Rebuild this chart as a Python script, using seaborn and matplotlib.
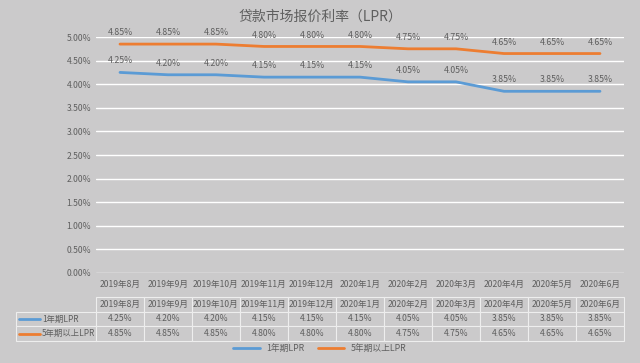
import matplotlib
matplotlib.use("Agg")
import matplotlib.pyplot as plt
import matplotlib.ticker as mtick
from matplotlib.lines import Line2D
import seaborn as sns
import pandas as pd

# 数据
months = ["2019年8月", "2019年9月", "2019年10月", "2019年11月", "2019年12月", "2020年1月",
          "2020年2月", "2020年3月", "2020年4月", "2020年5月", "2020年6月"]
lpr_1y = [4.25, 4.20, 4.20, 4.15, 4.15, 4.15, 4.05, 4.05, 3.85, 3.85, 3.85]
lpr_5y = [4.85, 4.85, 4.85, 4.80, 4.80, 4.80, 4.75, 4.75, 4.65, 4.65, 4.65]
series_names = ["1年期LPR", "5年期以上LPR"]

bg = "#cbcacb"
txt = "#5f5f5f"
colors = ["#5b9bd5", "#ed7d31"]

sns.set_style("white")
plt.rcParams['font.family'] = ['Noto Sans CJK SC', 'DejaVu Sans']

df = pd.DataFrame({"月份": months * 2,
                   "利率": lpr_1y + lpr_5y,
                   "系列": [series_names[0]] * len(months) + [series_names[1]] * len(months)})
df["x"] = list(range(len(months))) * 2

fig = plt.figure(figsize=(6.4, 3.63), dpi=100, facecolor=bg)
ax = fig.add_axes([0.15, 0.248, 0.825, 0.65])
ax.set_facecolor(bg)

sns.lineplot(data=df, x="x", y="利率", hue="系列", palette=colors, linewidth=2,
             ax=ax, legend=False)

# 数据标签
for vals in [lpr_1y, lpr_5y]:
    for i, v in enumerate(vals):
        ax.annotate(f"{v:.2f}%", (i, v), xytext=(0, 5), textcoords="offset points",
                    ha="center", va="bottom", fontsize=6.3, color=txt)

ax.set_xlim(-0.5, len(months) - 0.5)
ax.set_ylim(0, 5.0)
ax.set_yticks([i * 0.5 for i in range(11)])
ax.yaxis.set_major_formatter(mtick.FuncFormatter(lambda v, p: f"{v:.2f}%"))
ax.set_xticks(range(len(months)))
ax.set_xticklabels(months)
ax.tick_params(axis="both", labelsize=6.2, colors=txt, length=0)
ax.tick_params(axis="x", pad=5)
ax.grid(axis="y", color="white", linewidth=1)
ax.set_axisbelow(True)
for s in ax.spines.values():
    s.set_visible(False)
ax.set_xlabel("")
ax.set_ylabel("")

fig.text(0.5, 0.955, "贷款市场报价利率（LPR）", ha="center", va="center", fontsize=10, color=txt)

# 数据表 (第一列放行标题)
lab_w = 80 / 528
cells = [[""] + months,
         [""] + [f"{v:.2f}%" for v in lpr_1y],
         [""] + [f"{v:.2f}%" for v in lpr_5y]]
tbl = ax.table(cellText=cells, cellLoc="center",
               colWidths=[lab_w] + [1 / len(months)] * len(months),
               bbox=[-lab_w, -0.29, 1 + lab_w, 0.19])
tbl.auto_set_font_size(False)
tbl.set_fontsize(6.2)
for (r, c), cell in tbl.get_celld().items():
    cell.set_facecolor(bg)
    cell.set_edgecolor("#eeeeee")
    cell.set_linewidth(0.8)
    cell.get_text().set_color(txt)
    if r == 0 and c == 0:
        cell.set_edgecolor(bg)

# 表内行标题和图例线
for k, col in enumerate(colors):
    yy = -0.29 + 0.19 * (1.5 - k) / 3
    ax.add_line(Line2D([-0.146, -0.106], [yy, yy], transform=ax.transAxes,
                       color=col, lw=2, clip_on=False))
    ax.text(-0.102, yy, series_names[k], transform=ax.transAxes, ha="left", va="center",
            fontsize=6.0, color=txt)

handles = [Line2D([], [], color=c, lw=2) for c in colors]
fig.legend(handles, series_names, loc="center", bbox_to_anchor=(0.5, 0.04), ncol=2,
           frameon=False, fontsize=6.3, labelcolor=txt, handlelength=3, columnspacing=1.5)

fig.savefig("out.png", dpi=100, facecolor=bg)
